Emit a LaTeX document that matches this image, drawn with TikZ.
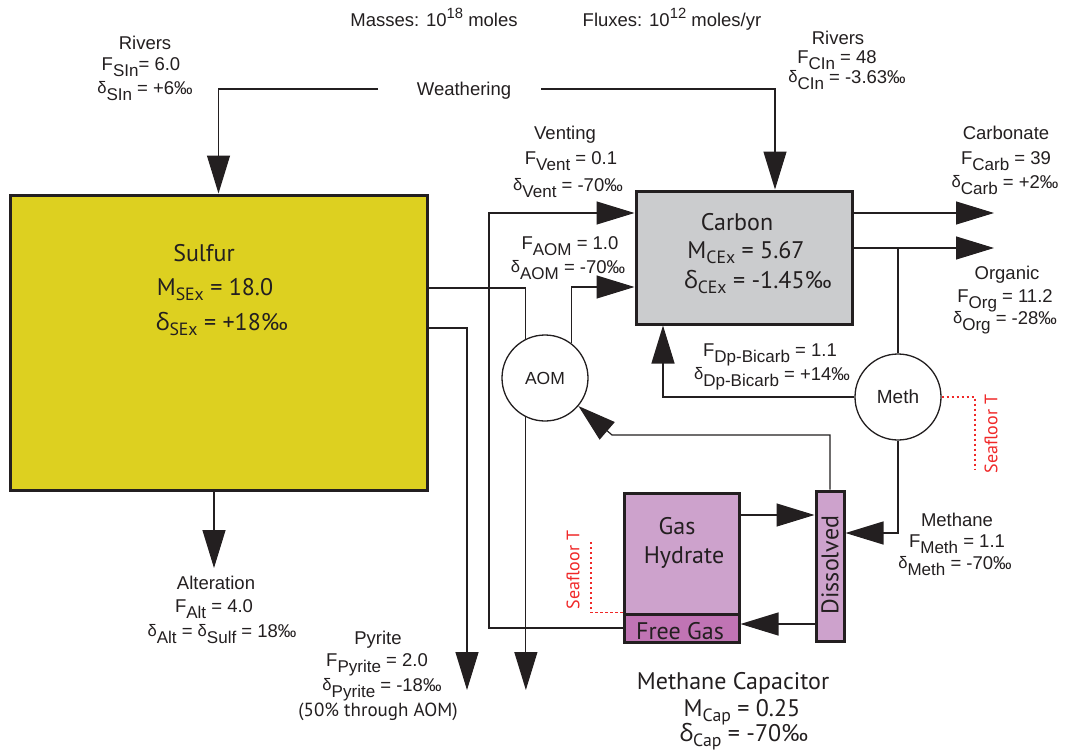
\documentclass[tikz,border=0pt]{standalone}
\usepackage{fontspec}
\setmainfont{Liberation Sans}
\newfontfamily\myr{PT Sans}
\newfontfamily\grk{Open Sans}
\usetikzlibrary{arrows.meta}
\definecolor{sulf}{RGB}{221,208,32}
\definecolor{carbc}{RGB}{203,204,206}
\definecolor{purl}{RGB}{205,162,204}
\definecolor{purd}{RGB}{192,116,180}
\definecolor{redc}{RGB}{240,40,40}
\definecolor{edge}{RGB}{35,31,32}
\newcommand\sbs[1]{\raisebox{-0.3em}{\scalebox{0.92}{#1}}}
\newcommand\msb[1]{\raisebox{-0.22em}{\scalebox{0.74}{#1}}}
\newcommand\sps[1]{\raisebox{0.45em}{\scalebox{0.8}{#1}}}
\newcommand\dlt{\raisebox{0.08em}{\scalebox{0.9}{δ}}}
\begin{document}
\begin{tikzpicture}[x=1pt,y=-1pt,
  lbl/.style={font=\fontsize{18.5}{20}\selectfont, text=edge, inner sep=0pt, text height=13.2pt, text depth=0pt},
  myrb/.style={font=\myr\fontsize{24}{26}\selectfont, text=edge, inner sep=0pt, text height=16.7pt, text depth=0pt},
  myrs/.style={font=\myr\fontsize{19}{22}\selectfont, text=edge, inner sep=0pt, text height=13.3pt, text depth=0pt},
  redt/.style={font=\myr\fontsize{18}{20}\selectfont, text=redc, inner sep=0pt, rotate=90},
  box/.style={draw=edge, line width=3pt, inner sep=0pt},
  conn/.style={line width=1.2pt, draw=edge},
  arr/.style={conn, -{Triangle[length=38pt,width=23pt]}},
  reddot/.style={draw=redc, line width=1.2pt, dash pattern=on 2.5pt off 2.5pt},
  circ/.style={draw=edge, circle, line width=1.3pt, minimum size=86pt, inner sep=0pt, fill=white, text=edge},
]
\fill[white] (0,0) rectangle (1065,752);
\useasboundingbox (0,0) rectangle (1065,752);

% boxes
\node[box, fill=sulf, minimum width=417pt, minimum height=295pt] (S) at (218.5,342.5) {};
\node[box, fill=carbc, minimum width=216pt, minimum height=133pt] (C) at (744,257.5) {};
\node[box, fill=purl, minimum width=115pt, minimum height=121pt] (GH) at (681.5,553.5) {};
\node[box, fill=purd, minimum width=115pt, minimum height=28pt] (FG) at (681.5,628) {};
\node[box, fill=purl, minimum width=28pt, minimum height=150pt] (D) at (830,566) {};
\node[circ, font=\fontsize{17.5}{20}\selectfont] (aom) at (545,378) {AOM};
\node[circ, font=\fontsize{19}{20}\selectfont] (meth) at (898,397) {Meth};

% coordinates
\coordinate (wl) at (378,89);
\coordinate (wr) at (541,89);
\coordinate (vent) at (489,213);
\coordinate (aomy) at (0,287);
\coordinate (s1) at (0,288);
\coordinate (s2) at (0,328);
\coordinate (p1) at (467,690);
\coordinate (p2) at (0,690);
\coordinate (alt) at (214,568);
\coordinate (carb) at (994,213);
\coordinate (org) at (994,248);
\coordinate (my) at (0,533);
\coordinate (ab) at (612,435);
\coordinate (gy) at (0,515);
\coordinate (fy) at (0,624);
\coordinate (sfr) at (975,470);
\coordinate (sfl) at (591,542);

% connectors
\draw[arr] (wl) -| (S.north);
\draw[arr] (wr) -| ([xshift=31pt]C.north);
\draw[arr] (FG.west) -| (vent) -- (vent -| C.west);
\draw[arr] (aom.53) |- (C.west |- aomy);
\draw[conn] (S.east |- s1) -| (aom.116);
\draw[arr] (aom.-116) -- (aom.-116 |- p2);
\draw[arr] (S.east |- s2) -| (p1);
\draw[arr] (S.south -| alt) -- (alt);
\draw[arr] (C.east |- carb) -- (carb);
\draw[arr] (C.east |- org) -- (org);
\draw[conn] (meth.north |- org) -- (meth.north);
\draw[arr] (meth.south) |- (D.east |- my);
\draw[arr] (meth.west) -| ([xshift=-81pt]C.south);
\draw[arr] (D.north) |- (ab) -- (aom.-40);
\draw[arr] (GH.east |- gy) -- (D.west |- gy);
\draw[arr] (D.west |- fy) -- (FG.east |- fy);
\draw[reddot] (meth.east) -| (sfr);
\draw[reddot] (FG.north west) -| (sfl);

% header
\node[lbl] (mass) at (434,20) {Masses: 10\sps{18} moles};
\node[lbl] (flux) at (672,20) {Fluxes: 10\sps{12} moles/yr};
% rivers S
\node[lbl] (rs1) at (145,43) {Rivers};
\node[lbl] (rs2) at (141,64) {F\sbs{SIn}= 6.0};
\node[lbl] (rs3) at (145,88) {\dlt\sbs{SIn} = +6‰};
\node[lbl] (weath) at (464,89) {Weathering};
% rivers C
\node[lbl] (rc1) at (838,38) {Rivers};
\node[lbl] (rc2) at (837,57) {F\sbs{CIn} = 48};
\node[lbl] (rc3) at (847,77) {\dlt\sbs{CIn} = -3.63‰};
% venting
\node[lbl] (v1) at (565,133) {Venting};
\node[lbl] (v2) at (571,158) {F\sbs{Vent} = 0.1};
\node[lbl] (v3) at (568,185) {\dlt\sbs{Vent} = -70‰};
% carbonate
\node[lbl] (cb1) at (1006,133) {Carbonate};
\node[lbl] (cb2) at (1006,158) {F\sbs{Carb} = 39};
\node[lbl] (cb3) at (1005,182) {\dlt\sbs{Carb} = +2‰};
% organic
\node[lbl] (o1) at (1007,273) {Organic};
\node[lbl] (o2) at (1005,296) {F\sbs{Org} = 11.2};
\node[lbl] (o3) at (1005,318) {\dlt\sbs{Org} = -28‰};
% AOM flux
\node[lbl] (a1) at (570,243) {F\sbs{AOM} = 1.0};
\node[lbl] (a2) at (568,267) {\dlt\sbs{AOM} = -70‰};
% Dp-Bicarb
\node[lbl] (dp1) at (770,350) {F\sbs{Dp-Bicarb} = 1.1};
\node[lbl] (dp2) at (772,374) {\dlt\sbs{Dp-Bicarb} = +14‰};
% methane
\node[lbl] (m1) at (957,520) {Methane};
\node[lbl] (m2) at (957,541) {F\sbs{Meth} = 1.1};
\node[lbl] (m3) at (955,563) {\dlt\sbs{Meth} = -70‰};
% alteration
\node[lbl] (al1) at (216,583) {Alteration};
\node[lbl] (al2) at (214,606) {F\sbs{Alt} = 4.0};
\node[lbl] (al3) at (222,631) {\dlt\sbs{Alt} = \dlt\sbs{Sulf} = 18‰};
% pyrite
\node[lbl] (py1) at (378,638) {Pyrite};
\node[lbl] (py2) at (377,660) {F\sbs{Pyrite} = 2.0};
\node[lbl] (py3) at (382,685) {\dlt\sbs{Pyrite} = -18‰};
\node[myrs] (py4) at (378,710) {(50\% through AOM)};

% reservoir texts
\node[myrb] (st1) at (204,253) {Sulfur};
\node[myrb] (st2) at (215,287) {M\msb{SEx} = 18.0};
\node[myrb] (st3) at (222,322) {{\grk δ}\msb{SEx} = +18‰};
\node[myrb] (ct1) at (737,222) {Carbon};
\node[myrb] (ct2) at (746,250) {M\msb{CEx} = 5.67};
\node[myrb] (ct3) at (758,280) {{\grk δ}\msb{CEx} = -1.45‰};
\node[myrb] (g1) at (677,526) {Gas};
\node[myrb] (g2) at (684,555) {Hydrate};
\node[myrb] (fgt) at (680,631) {Free Gas};
\node[myrb, rotate=90] (dt) at (830,565) {Dissolved};
\node[myrb] (mc1) at (733,681) {Methane Capacitor};
\node[myrb] (mc2) at (742,708) {M\msb{Cap} = 0.25};
\node[myrb] (mc3) at (744,733) {{\grk δ}\msb{Cap} = -70‰};
\node[redt] (sf1) at (991,434) {Seafloor T};
\node[redt] (sf2) at (573,570) {Seafloor T};
\end{tikzpicture}
\end{document}
